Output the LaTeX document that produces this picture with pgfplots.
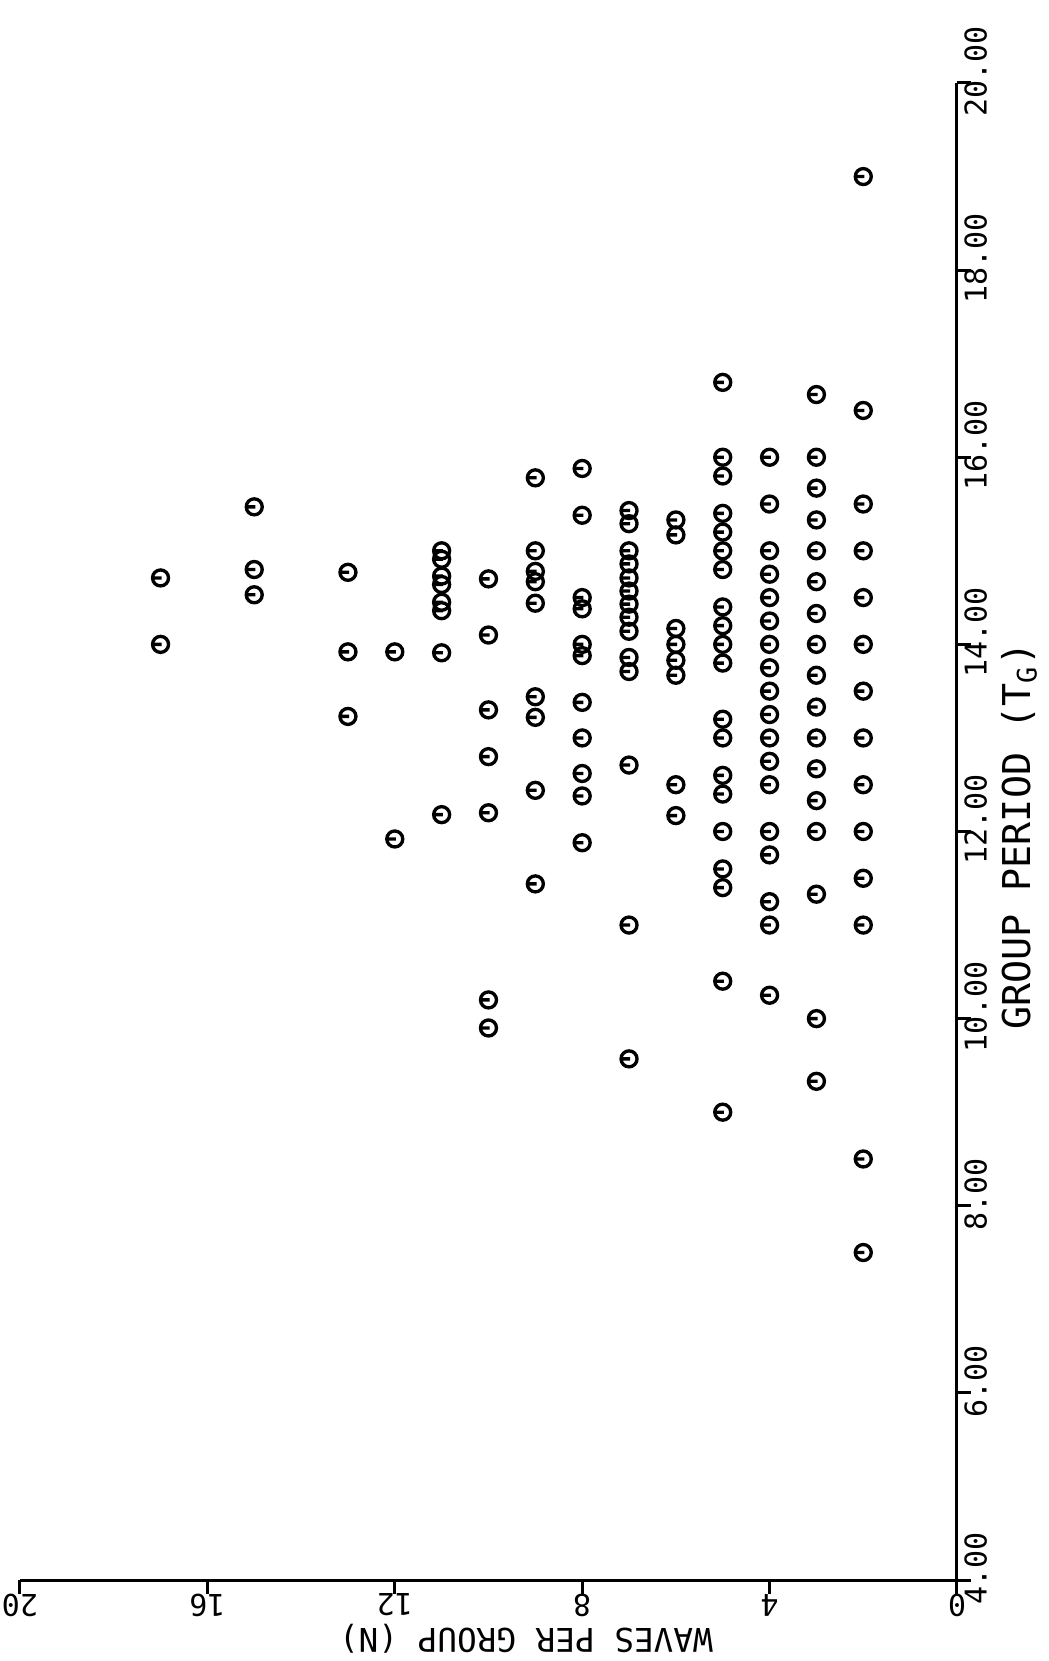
\documentclass[border=0pt]{standalone}
\usepackage{fontspec}
\usepackage{pgfplots}
\pgfplotsset{compat=1.18}
\newfontfamily\plotfont{DejaVu Sans Mono}
\pgfdeclareplotmark{plotter}{%
  \pgfpathcircle{\pgfpointorigin}{\pgfplotmarksize}%
  \pgfpathmoveto{\pgfpoint{-\pgfplotmarksize}{0pt}}%
  \pgfpathlineto{\pgfpoint{0.15\pgfplotmarksize}{0pt}}%
  \pgfusepathqstroke}
\pgfplotstableread{
N T
2 7.5
2 8.5
2 11.0
2 11.5
2 12.0
2 12.5
2 13.0
2 13.5
2 14.0
2 14.5
2 15.0
2 15.5
2 16.5
2 19.0
3 9.33
3 10.0
3 11.33
3 12.0
3 12.33
3 12.67
3 13.0
3 13.33
3 13.67
3 14.0
3 14.33
3 14.67
3 15.0
3 15.33
3 15.67
3 16.0
3 16.67
4 10.25
4 11.0
4 11.25
4 11.75
4 12.0
4 12.5
4 12.75
4 13.0
4 13.25
4 13.5
4 13.75
4 14.0
4 14.25
4 14.5
4 14.75
4 15.0
4 15.5
4 16.0
5 9.0
5 10.4
5 11.4
5 11.6
5 12.0
5 12.4
5 12.6
5 13.0
5 13.2
5 13.8
5 14.0
5 14.2
5 14.4
5 14.8
5 15.0
5 15.2
5 15.4
5 15.8
5 16.0
5 16.8
6 12.17
6 12.5
6 13.67
6 13.83
6 14.0
6 14.17
6 15.17
6 15.33
7 9.57
7 11.0
7 12.71
7 13.71
7 13.86
7 14.14
7 14.29
7 14.43
7 14.57
7 14.71
7 14.86
7 15.0
7 15.29
7 15.43
8 11.88
8 12.38
8 12.62
8 13.0
8 13.38
8 13.88
8 14.0
8 14.38
8 14.5
8 15.38
8 15.88
9 11.44
9 12.44
9 13.22
9 13.44
9 14.44
9 14.67
9 14.78
9 15.0
9 15.78
10 9.9
10 10.2
10 12.2
10 12.8
10 13.3
10 14.1
10 14.7
11 12.18
11 13.91
11 14.36
11 14.45
11 14.64
11 14.73
11 14.91
11 15.0
12 11.92
12 13.92
13 13.23
13 13.92
13 14.77
15 14.53
15 14.8
15 15.47
17 14.0
17 14.71
}\wavedata
\begin{document}
\begin{tikzpicture}
\path[use as bounding box] (-6pt,-24.3pt) rectangle (308.4pt,474pt);
\begin{axis}[
  at={(0,0)}, anchor=south west,
  scale only axis, width=281.1pt, height=449.1pt,
  xmin=0, xmax=20, ymin=4, ymax=20,
  x dir=reverse,
  axis x line=bottom, axis y line=right,
  axis line style={-, line width=0.9pt, black},
  xtick={0,4,8,12,16,20},
  xticklabels={0,4,8,12,16,20},
  ytick={4,6,8,10,12,14,16,18,20},
  yticklabels={4.00,6.00,8.00,10.00,12.00,14.00,16.00,18.00,20.00},
  tick align=outside,
  major tick length=4.2pt,
  tick style={line width=0.9pt, black},
  tick label style={font=\plotfont\fontsize{9}{9}\selectfont},
  xticklabel style={anchor=center, yshift=-3.3pt, rotate=180},
  yticklabel style={anchor=center, xshift=1.4pt, yshift=3.5pt, rotate=90},
  every axis x label/.style={at={(axis cs:9.2,3.37)}, anchor=center, rotate=180, font=\plotfont\fontsize{9.8}{9.8}\selectfont},
  every axis y label/.style={at={(axis cs:-1.33,11.95)}, anchor=center, rotate=90, font=\plotfont\fontsize{11.5}{11.5}\selectfont},
  xlabel={WAVES PER GROUP (N)},
  ylabel={GROUP PERIOD (T\textsubscript{G})},
  clip=false,
]
\addplot[only marks, mark=plotter, mark size=2.4pt, line width=1pt, black] table[x=N, y=T] {\wavedata};
\end{axis}
\end{tikzpicture}
\end{document}
